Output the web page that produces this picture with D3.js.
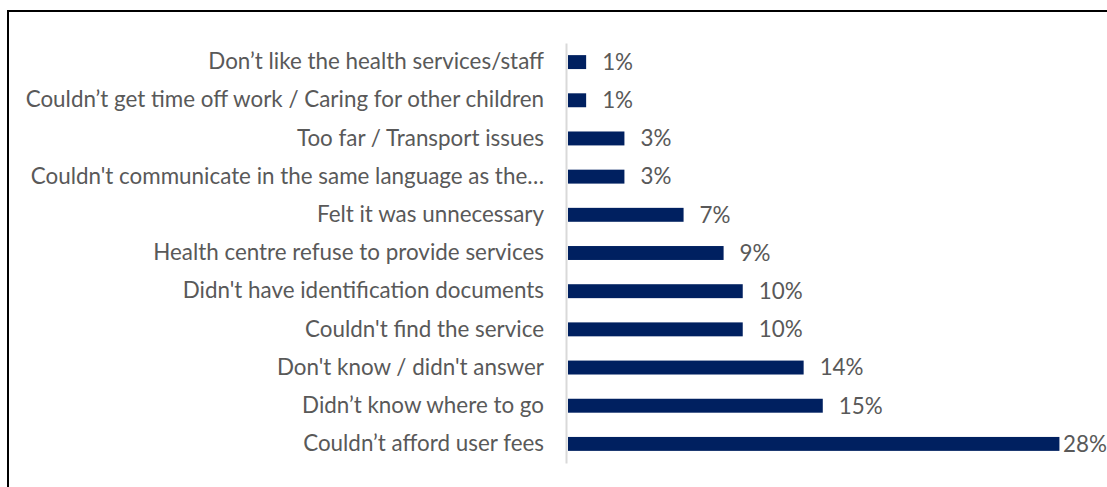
<!DOCTYPE html>
<html>
<head>
<meta charset="utf-8">
<script src="https://cdn.jsdelivr.net/npm/d3@7"></script>
<style>
html,body{margin:0;padding:0;background:#fff;overflow:hidden;}
svg{display:block;}
</style>
</head>
<body>
<svg id="chart" width="1107" height="487"></svg>
<script>
const categories = [
  "Don’t like the health services/staff",
  "Couldn’t get time off work / Caring for other children",
  "Too far / Transport issues",
  "Couldn't communicate in the same language as the…",
  "Felt it was unnecessary",
  "Health centre refuse to provide services",
  "Didn't have identification documents",
  "Couldn't find the service",
  "Don't know / didn't answer",
  "Didn’t know where to go",
  "Couldn’t afford user fees"
];
const values = [1.1, 1.1, 3.3, 3.3, 6.7, 9.0, 10.1, 10.1, 13.6, 14.7, 28.3];
const valueLabels = ["1%", "1%", "3%", "3%", "7%", "9%", "10%", "10%", "14%", "15%", "28%"];

const W = 1107, H = 487;
const svg = d3.select("#chart");

// outer frame
svg.append("rect")
  .attr("x", 8).attr("y", 11)
  .attr("width", W + 20).attr("height", H + 20)
  .attr("fill", "#fff").attr("stroke", "#000").attr("stroke-width", 2);

const x = d3.scaleLinear().domain([0, 30]).range([567, 1089]);
const y = d3.scaleBand().domain(categories).range([43, 463]).paddingInner(0.635).paddingOuter(0.3175);

const font = "Lato, 'Open Sans', sans-serif";
const fontSize = 22.4;

// axis
const yAxis = d3.axisLeft(y).tickSize(0).tickPadding(22);
const ag = svg.append("g").attr("transform", `translate(566,0)`).call(yAxis);
ag.select(".domain").attr("stroke", "#d9d9d9").attr("stroke-width", 2);
ag.selectAll("text").attr("fill", "#595959").style("font-family", font).style("font-size", fontSize + "px");

// bars
svg.append("g").selectAll("rect")
  .data(values)
  .join("rect")
  .attr("x", x(0) + 1)
  .attr("y", (d, i) => y(categories[i]))
  .attr("width", d => x(d) - x(0) - 1)
  .attr("height", y.bandwidth())
  .attr("fill", "#002060");

// value labels
svg.append("g").selectAll("text")
  .data(values)
  .join("text")
  .attr("x", d => Math.min(x(d) + 16, W - 44))
  .attr("y", (d, i) => y(categories[i]) + y.bandwidth() / 2)
  .attr("dy", "0.35em")
  .attr("fill", "#595959")
  .style("font-family", font)
  .style("font-size", fontSize + "px")
  .text((d, i) => valueLabels[i]);
</script>
</body>
</html>
